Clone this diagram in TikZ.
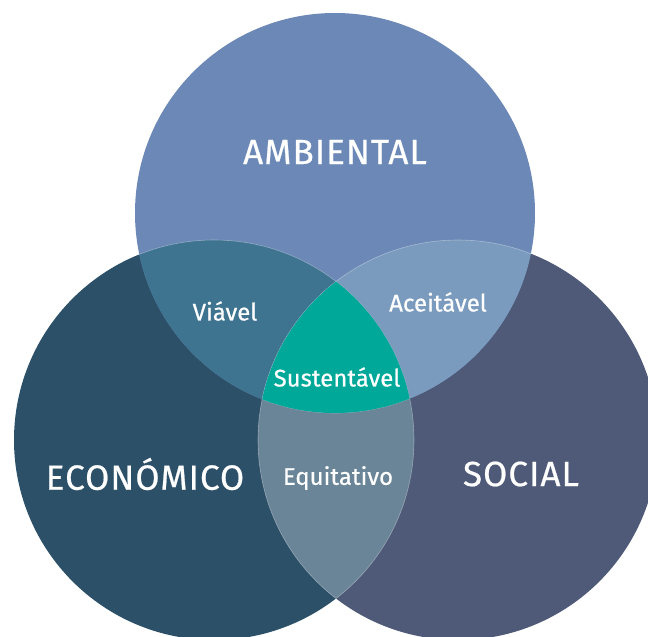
\documentclass[tikz,border=0pt]{standalone}
\usepackage{fontspec}
\setmainfont{Fira Sans}[FakeBold=0.6]
\definecolor{cTop}{HTML}{6B88B6}
\definecolor{cLeft}{HTML}{2D5069}
\definecolor{cRight}{HTML}{4E5A77}
\definecolor{cTL}{HTML}{3F7491}
\definecolor{cTR}{HTML}{7B9BBE}
\definecolor{cLR}{HTML}{6A8598}
\definecolor{cAll}{HTML}{00A89A}
\begin{document}
\begin{tikzpicture}[x=1pt,y=-1pt,
  big/.style={text=white,font=\fontsize{35}{40}\selectfont\addfontfeature{LetterSpace=3}},
  small/.style={text=white,font=\fontsize{24}{28}\selectfont},
  edge/.style={draw=white,draw opacity=0.35,line width=0.6pt}]
\useasboundingbox (0,0) rectangle (648,637);
\clip (0,0) rectangle (648,637);
\def\Ctop{(335,213) circle (200)}
\def\Cleft{(214,440) circle (200)}
\def\Cright{(458,440) circle (200)}
\fill[cLeft] \Cleft;
\fill[cRight] \Cright;
\fill[cTop] \Ctop;
\begin{scope}\clip \Ctop; \fill[cTL] \Cleft; \draw[edge] \Cleft; \end{scope}
\begin{scope}\clip \Ctop; \fill[cTR] \Cright; \draw[edge] \Cright; \end{scope}
\begin{scope}\clip \Cleft; \fill[cLR] \Cright; \draw[edge] \Cright; \end{scope}
\begin{scope}\clip \Cright; \draw[edge] \Cleft; \end{scope}
\begin{scope}\clip \Cleft; \clip \Cright; \draw[edge] \Ctop; \end{scope}
\begin{scope}\clip \Ctop; \clip \Cleft; \fill[cAll] \Cright; \end{scope}
\node[big] (amb) at (335,152) {AMBIENTAL};
\node[big] (eco) at (145,474) {ECONÓMICO};
\node[big] (soc) at (521,474) {SOCIAL};
\node[small] (via) at (225,311) {Viável};
\node[small] (ace) at (438,302) {Aceitável};
\node[small] (sus) at (337,377) {Sustentável};
\node[small] (equ) at (338,478) {Equitativo};
\end{tikzpicture}
\end{document}
